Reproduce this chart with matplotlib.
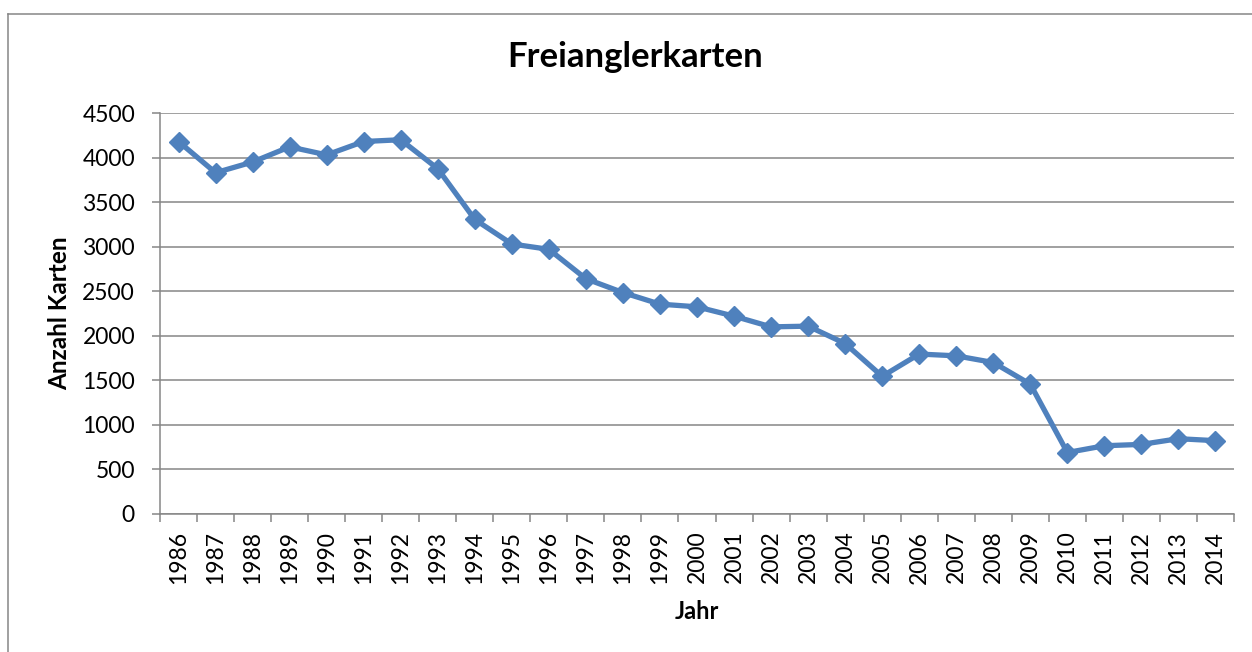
import matplotlib
matplotlib.use("Agg")
import matplotlib.pyplot as plt
from matplotlib.lines import Line2D

years = [str(y) for y in range(1986, 2015)]
karten = [4180, 3830, 3950, 4120, 4030, 4180, 4200, 3875, 3305, 3030,
          2970, 2640, 2485, 2355, 2325, 2220, 2100, 2108, 1913, 1545,
          1795, 1775, 1700, 1457, 690, 766, 781, 845, 823]
yticks = [0, 500, 1000, 1500, 2000, 2500, 3000, 3500, 4000, 4500]

title = "Freianglerkarten"
xlabel = "Jahr"
ylabel = "Anzahl Karten"

plt.rcParams['font.family'] = ['Lato', 'DejaVu Sans']

W, H = 1252, 652
fig = plt.figure(figsize=(W / 100, H / 100), dpi=100)
ax = fig.add_axes([160 / W, 1 - 514 / H, (1234 - 160) / W, (514 - 113) / H])

grid_col = '#868686'
blue = '#4F81BD'

x = list(range(len(years)))
ax.plot(x, karten, color=blue, lw=3.8, marker='D', markersize=10.5,
        markeredgecolor=blue, markeredgewidth=1, solid_joinstyle='round', zorder=3)

ax.set_xlim(-0.5, len(years) - 0.5)
ax.set_ylim(0, 4500)
ax.set_yticks(yticks)
ax.set_yticklabels([str(v) for v in yticks], fontsize=16.5)
ax.set_xticks(x)
ax.set_xticklabels(years, rotation=90, fontsize=16.5)
ax.set_xticks([i - 0.5 for i in range(len(years) + 1)], minor=True)
ax.tick_params(axis='x', which='major', length=0, pad=12)
ax.tick_params(axis='x', which='minor', length=6, width=1.1, color=grid_col, direction='out')
ax.tick_params(axis='y', which='major', length=6, width=1.1, color=grid_col, direction='out', pad=12)

ax.grid(axis='y', color=grid_col, lw=1.1, zorder=0)
ax.set_axisbelow(True)
for s in ['top', 'right']:
    ax.spines[s].set_visible(False)
for s in ['left', 'bottom']:
    ax.spines[s].set_color(grid_col)
    ax.spines[s].set_linewidth(1.1)

ax.set_xlabel(xlabel, fontsize=17, fontweight='bold', labelpad=12)
ax.set_ylabel(ylabel, fontsize=17.5, fontweight='bold', labelpad=8)

fig.text(635 / W, 1 - 57 / H, title, fontsize=25, fontweight='bold',
         ha='center', va='center')

# chart-area border
fig.add_artist(Line2D([8 / W, 8 / W], [0, 1 - 13.5 / H], transform=fig.transFigure,
                      color=grid_col, lw=1.1))
fig.add_artist(Line2D([8 / W, 1], [1 - 13.5 / H, 1 - 13.5 / H], transform=fig.transFigure,
                      color=grid_col, lw=1.1))

fig.savefig("out.png", dpi=100)
